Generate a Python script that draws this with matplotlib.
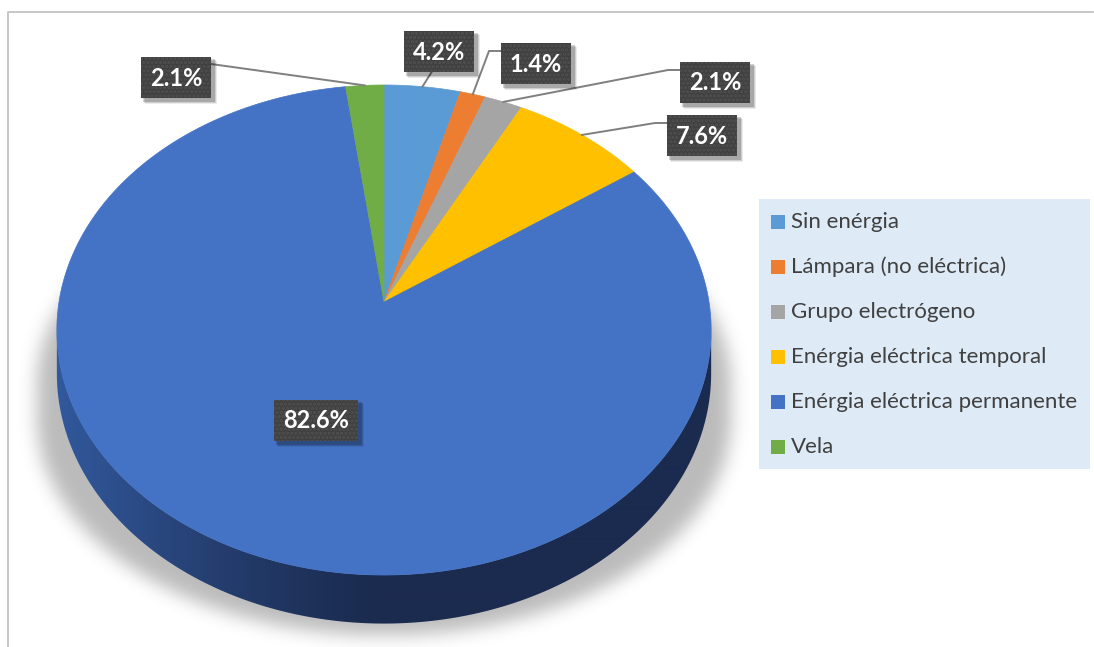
import numpy as np
import matplotlib.pyplot as plt
from matplotlib.patches import Polygon, Rectangle
from matplotlib.path import Path
from matplotlib.colors import to_rgb

plt.rcParams["font.family"] = ["Lato", "DejaVu Sans"]
plt.rcParams["hatch.linewidth"] = 1.6

# household lighting source, % of households
categories = ["Sin enérgia", "Lámpara (no eléctrica)", "Grupo electrógeno",
              "Enérgia eléctrica temporal", "Enérgia eléctrica permanente", "Vela"]
shares = [4.2, 1.4, 2.1, 7.6, 82.6, 2.1]
colors = ["#5B9BD5", "#ED7D31", "#A5A5A5", "#FFC000", "#4472C4", "#70AD47"]
# label box centres (pixels) and which side the leader line leaves from
label_xy = [(439, 51), (536, 63), (715, 82), (702, 135), (316, 420), (176, 77)]
leader_side = ["bottom", "left", "left", "left", None, "right"]

W, H = 1094, 647

# tilted disc projected with a bit of perspective
CX, CY = 384, 302
D, B, C = 325.0, -207.3, 0.1143
DEPTH = 43.0


def rim(t_deg, drop=0.0):
    t = np.radians(t_deg)
    u, v = np.sin(t), np.cos(t)
    w = 1 + C * v
    return CX + D * u / w, (CY + B * v) / w + drop / w


def gauss_blur(img, sigma):
    r = int(3 * sigma)
    k = np.exp(-0.5 * (np.arange(-r, r + 1) / sigma) ** 2)
    k /= k.sum()
    img = np.apply_along_axis(lambda a: np.convolve(a, k, mode="same"), 0, img)
    img = np.apply_along_axis(lambda a: np.convolve(a, k, mode="same"), 1, img)
    return img


fig = plt.figure(figsize=(W / 100, H / 100), dpi=100)
ax = fig.add_axes([0, 0, 1, 1])

# chart frame (only top and left edges fall inside the image)
ax.plot([8, 8, 1093], [H, 12, 12], color="#c3c3c3", lw=1.3, zorder=1)

# outline of the whole cylinder
t_side_r = np.degrees(np.arccos(-C))
t_side_l = 360 - t_side_r
t_back = np.linspace(t_side_l, t_side_r + 360, 300) % 360
t_front = np.linspace(t_side_r, t_side_l, 300)
bx, by = rim(t_back)
fx, fy = rim(t_front, DEPTH)
out_x = np.concatenate([bx, fx])
out_y = np.concatenate([by, fy])

# soft drop shadow under the pie
sx = CX + 1.06 * (out_x - CX)
sy = 622 + 0.86 * (out_y - 622) + 12
gx, gy = np.meshgrid(np.arange(W) + 0.5, np.arange(H) + 0.5)
mask = Path(np.column_stack([sx, sy])).contains_points(
    np.column_stack([gx.ravel(), gy.ravel()])).reshape(H, W).astype(float)
mask = gauss_blur(mask, 9)
shadow = np.zeros((H, W, 4))
shadow[..., 3] = 0.27 * mask
ax.imshow(shadow, extent=(0, W, H, 0), zorder=2, interpolation="bilinear")

# side wall: horizontal gradient clipped to the wall outline
wx0, wy0 = rim(t_front)
wx1, wy1 = rim(t_front[::-1], DEPTH)
wall = Polygon(np.column_stack([np.concatenate([wx0, wx1]),
                                np.concatenate([wy0, wy1])]),
               closed=True, fc="none", ec="none", zorder=3)
ax.add_patch(wall)
light = np.array(to_rgb("#32599d"))
dark = np.array(to_rgb("#1b2b4f"))
xs = np.arange(W) + 0.5
f = np.clip((CX - xs) / (CX - wx0.min()), 0, 1) ** 1.3
grad = dark + (light - dark) * f[:, None]
im = ax.imshow(grad[None, :, :], extent=(0, W, H, 0), aspect="auto",
               zorder=3, interpolation="bilinear")
im.set_clip_path(wall)

# top face wedges, clockwise from 12 o'clock
bounds = np.concatenate([[0], np.cumsum(shares)]) / sum(shares) * 360
mids = []
for i, (s, e) in enumerate(zip(bounds[:-1], bounds[1:])):
    tt = np.linspace(s, e, max(4, int((e - s) * 2)))
    px, py = rim(tt)
    pts = [(CX, CY)] + list(zip(px, py))
    ax.add_patch(Polygon(pts, closed=True, fc=colors[i], ec=colors[i],
                         lw=0.5, zorder=4))
    mids.append(rim((s + e) / 2))

# data labels with leader lines
for i, val in enumerate(shares):
    lx, ly = label_xy[i]
    txt = f"{val:.1f}%"
    bw, bh = 14 * (len(txt) + 1), 41
    side = leader_side[i]
    if side is not None:
        mx, my = mids[i]
        if side == "right":
            xs_l, ys_l = [lx + bw / 2, mx], [ly - 13, my]
        elif side == "bottom":
            xs_l, ys_l = [lx - 7, mx], [ly + bh / 2, my]
        else:
            ey = ly - 12
            xs_l, ys_l = [lx - bw / 2, lx - bw / 2 - 12, mx], [ey, ey, my]
        ax.plot(xs_l, ys_l, color="#7f7f7f", lw=1.4, zorder=5)
    for off, al in [(5, 0.08), (4, 0.12), (3, 0.18)]:
        ax.add_patch(Rectangle((lx - bw / 2 + off - 1, ly - bh / 2 + off - 1),
                               bw + 2, bh + 2, fc="black", ec="none",
                               alpha=al, zorder=6))
    ax.add_patch(Rectangle((lx - bw / 2, ly - bh / 2), bw, bh, fc="#404040",
                           ec="#505050", lw=0, hatch="....", zorder=7))
    ax.text(lx, ly + 1, txt, ha="center", va="center", color="white",
            fontsize=17, fontweight="bold", zorder=8)

# legend panel
ax.add_patch(Rectangle((759, 199), 331, 270, fc="#deeaf6", ec="none", zorder=2))
for i, name in enumerate(categories):
    yy = 222 + 45 * i
    ax.add_patch(Rectangle((771, yy - 7), 14, 14, fc=colors[i], ec="none", zorder=3))
    ax.text(791, yy, name, ha="left", va="center", color="#404040",
            fontsize=16, zorder=3)

ax.set_xlim(0, W)
ax.set_ylim(H, 0)
ax.axis("off")
fig.savefig("out.png", dpi=100)
